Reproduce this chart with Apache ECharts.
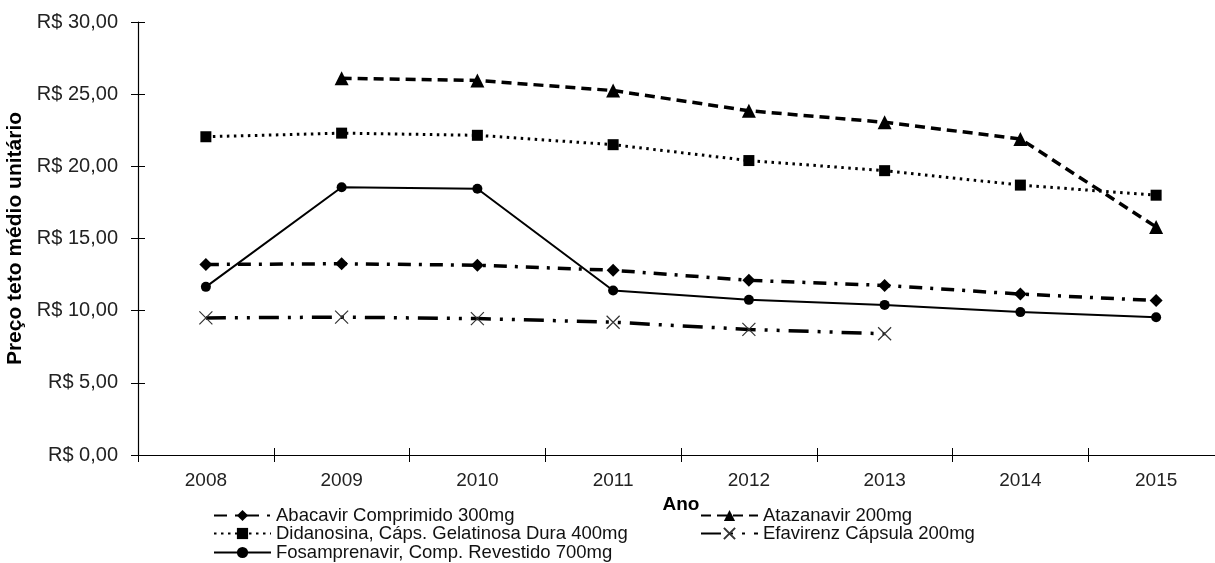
<!DOCTYPE html>
<html><head><meta charset="utf-8">
<script src="https://cdn.jsdelivr.net/npm/echarts@6/dist/echarts.min.js"></script>
<style>html,body{margin:0;padding:0;background:#fff}#c{width:1215px;height:563px}</style>
</head><body><div id="c"></div>
<script>
const years = ['2008','2009','2010','2011','2012','2013','2014','2015'];
const abacavir = [13.2, 13.25, 13.15, 12.8, 12.1, 11.75, 11.15, 10.7];
const atazanavir = [null, 26.1, 25.95, 25.25, 23.85, 23.05, 21.9, 15.8];
const didanosina = [22.05, 22.3, 22.15, 21.5, 20.4, 19.7, 18.7, 18.0];
const efavirenz = [9.5, 9.55, 9.45, 9.2, 8.7, 8.4, null, null];
const fosamprenavir = [11.65, 18.55, 18.45, 11.4, 10.75, 10.4, 9.9, 9.55];
const names = ['Abacavir Comprimido 300mg','Atazanavir 200mg','Didanosina, Cáps. Gelatinosa Dura 400mg','Efavirenz Cápsula 200mg','Fosamprenavir, Comp. Revestido 700mg'];

const font = 'Liberation Sans, Arial, sans-serif';
const chart = echarts.init(document.getElementById('c'));
const grid = {left:138, top:22, width:1086, height:433, outerBoundsMode:'none', containLabel:false};
const fmt = v => 'R$ ' + v.toFixed(2).replace('.', ',');
const xSymbol = 'path://M0,0L10,10M10,0L0,10';

function leg(name, left, top){
  return {left:left, top:top, itemWidth:57, itemHeight:14, padding:0,
    textStyle:{fontFamily:font, fontSize:18.5, color:'#111'}, data:[name]};
}

chart.setOption({
  animation:false,
  backgroundColor:'#fff',
  textStyle:{fontFamily:font},
  grid:grid,
  xAxis:[{
    type:'category', data:years, boundaryGap:true,
    name:'Ano', nameLocation:'middle', nameGap:33,
    nameTextStyle:{fontFamily:font, fontSize:19, fontWeight:'bold', color:'#000'},
    axisLine:{lineStyle:{color:'#000', width:1.2}},
    axisTick:{show:true, length:7, lineStyle:{color:'#000'}},
    axisLabel:{fontFamily:font, fontSize:19, color:'#222', margin:16},
    splitLine:{show:false}
  },{
    type:'category', data:years, boundaryGap:true, position:'bottom',
    axisLine:{show:false}, axisLabel:{show:false},
    axisTick:{show:true, inside:true, length:7, lineStyle:{color:'#000'}}
  }],
  yAxis:[{
    type:'value', min:0, max:30, interval:5,
    name:'Preço teto médio unitário', nameLocation:'middle', nameGap:110, nameRotate:90,
    nameTextStyle:{fontFamily:font, fontSize:21, fontWeight:'bold', color:'#000'},
    axisLine:{show:true, lineStyle:{color:'#000', width:1.2}},
    axisTick:{show:true, length:7, lineStyle:{color:'#000'}},
    axisLabel:{fontFamily:font, fontSize:20, color:'#222', margin:20, formatter:fmt},
    splitLine:{show:false}
  },{
    type:'value', min:0, max:30, interval:5, position:'left',
    axisLine:{show:false}, axisLabel:{show:false}, splitLine:{show:false},
    axisTick:{show:true, inside:true, length:7, lineStyle:{color:'#000'}}
  }],
  legend:[
    leg(names[0], 213, 506),
    leg(names[2], 213, 524),
    leg(names[4], 213, 543),
    leg(names[1], 700, 506),
    leg(names[3], 700, 524)
  ],
  series:[
    {name:names[0], type:'line', data:abacavir, symbol:'diamond', symbolSize:13,
     itemStyle:{color:'#000'}, lineStyle:{color:'#000', width:3.5, type:[13,8,3,8]}},
    {name:names[1], type:'line', data:atazanavir, symbol:'triangle', symbolSize:14,
     itemStyle:{color:'#000'}, lineStyle:{color:'#000', width:3.5, type:[10,6]}},
    {name:names[2], type:'line', data:didanosina, symbol:'rect', symbolSize:11,
     itemStyle:{color:'#000'}, lineStyle:{color:'#000', width:3, type:[2.5,4.5]}},
    {name:names[3], type:'line', data:efavirenz, symbol:xSymbol, symbolSize:13,
     itemStyle:{color:'rgba(0,0,0,0)', borderColor:'#333', borderWidth:1.2},
     lineStyle:{color:'#000', width:3.5, type:[20,9,3,9,3,9]}},
    {name:names[4], type:'line', data:fosamprenavir, symbol:'circle', symbolSize:10,
     itemStyle:{color:'#000'}, lineStyle:{color:'#000', width:2}}
  ]
});
</script></body></html>
